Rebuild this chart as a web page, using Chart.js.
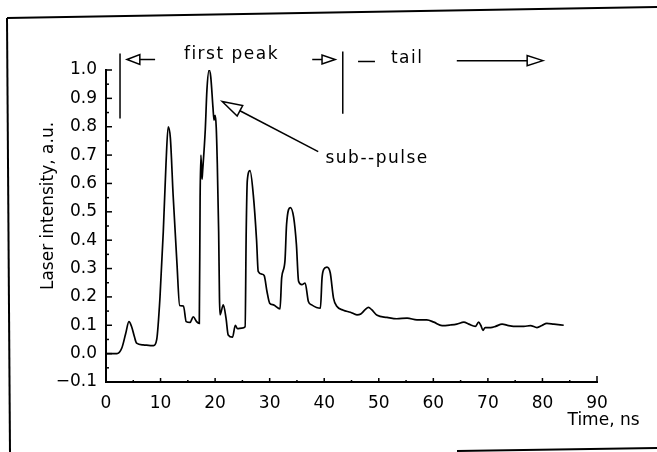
<!DOCTYPE html>
<html><head><meta charset="utf-8">
<script src="https://cdn.jsdelivr.net/npm/chart.js@4/dist/chart.umd.min.js"></script>
<style>html,body{margin:0;padding:0;background:#fff;}#wrap{width:657px;height:452px;position:relative;}</style>
</head><body><div id="wrap"><canvas id="c"></canvas></div>
<script>
// ---- data ----
const timeNs = [0.1,2.0,2.9,3.6,4.2,4.7,5.2,5.6,6.8,8.7,9.3,9.9,10.5,11.0,11.4,11.8,12.3,13.0,13.5,14.2,14.7,15.4,16.0,16.6,17.1,17.25,17.4,17.6,17.7,18.2,18.5,18.9,19.2,19.6,19.8,20.0,20.2,20.4,20.65,20.8,20.9,21.5,22.0,22.4,23.2,23.7,24.1,24.9,25.5,25.7,25.9,26.4,27.0,27.6,27.9,28.6,29.0,29.5,30.0,30.7,31.9,32.2,32.8,33.1,33.8,34.4,34.9,35.3,35.9,36.5,37.1,37.7,39.3,39.6,39.9,40.5,41.1,41.7,42.3,43.5,44.8,46.0,46.7,47.5,48.1,48.7,49.7,51.5,53.3,55.2,57.0,58.8,60.1,61.6,63.1,64.3,65.6,66.5,67.7,68.3,68.7,69.1,69.5,70.5,71.4,72.6,73.8,75.3,76.6,77.8,79.0,79.9,80.8,82.1,83.9];
const intensity = [0.0,0.0,0.02,0.07,0.113,0.095,0.06,0.037,0.031,0.028,0.05,0.2,0.43,0.67,0.80,0.76,0.56,0.32,0.17,0.168,0.113,0.11,0.13,0.113,0.107,0.55,0.70,0.615,0.64,0.79,0.93,1.0,0.976,0.87,0.823,0.84,0.80,0.67,0.43,0.196,0.137,0.172,0.125,0.066,0.058,0.10,0.088,0.09,0.095,0.43,0.61,0.645,0.56,0.40,0.29,0.28,0.275,0.22,0.178,0.172,0.158,0.267,0.326,0.456,0.515,0.48,0.385,0.255,0.243,0.249,0.184,0.172,0.16,0.267,0.297,0.305,0.285,0.196,0.167,0.153,0.146,0.137,0.14,0.155,0.163,0.155,0.135,0.128,0.123,0.125,0.119,0.119,0.111,0.099,0.101,0.104,0.111,0.104,0.096,0.111,0.10,0.082,0.092,0.092,0.096,0.104,0.099,0.096,0.096,0.099,0.092,0.099,0.107,0.104,0.100];
const xTickValues = [0,10,20,30,40,50,60,70,80,90];
const yTickValues = [-0.1,0.0,0.1,0.2,0.3,0.4,0.5,0.6,0.7,0.8,0.9,1.0];
const yTitle = "Laser intensity, a.u.";
const xTitle = "Time, ns";
const labelFirst = "first peak";
const labelTail = "tail";
const labelSub = "sub--pulse";

const FONT = '"DejaVu Sans", sans-serif';

const deco = {
  id: 'deco',
  afterDraw(chart) {
    const ctx = chart.ctx, xs = chart.scales.x, ys = chart.scales.y;
    const X = v => xs.getPixelForValue(v), Y = v => ys.getPixelForValue(v);
    ctx.save();
    ctx.strokeStyle = '#000'; ctx.fillStyle = '#000';
    // inward ticks on y axis
    ctx.lineWidth = 1.5;
    const yl = X(0);
    for (let i = -2; i <= 20; i++) {
      const v = i * 0.05, py = Y(v);
      const len = (i % 2 === 0) ? 6 : 3;
      ctx.beginPath(); ctx.moveTo(yl, py); ctx.lineTo(yl + len, py); ctx.stroke();
    }
    // inward ticks on x axis
    const xb = Y(-0.1);
    for (let i = 0; i <= 18; i++) {
      const px = X(i * 5);
      const len = (i === 18) ? 6 : ((i % 2 === 0) ? 4 : 2);
      ctx.beginPath(); ctx.moveTo(px, xb); ctx.lineTo(px, xb - len); ctx.stroke();
    }
    // figure frame (scan borders)
    ctx.lineWidth = 2;
    ctx.beginPath(); ctx.moveTo(7, 18); ctx.lineTo(657, 7); ctx.stroke();
    ctx.beginPath(); ctx.moveTo(7, 18); ctx.lineTo(10, 452); ctx.stroke();
    ctx.beginPath(); ctx.moveTo(457, 451); ctx.lineTo(657, 448); ctx.stroke();

    // axis titles
    ctx.font = '17px ' + FONT;
    ctx.textAlign = 'center'; ctx.textBaseline = 'middle';
    ctx.save(); ctx.translate(49, 206); ctx.rotate(-Math.PI / 2); ctx.fillText(yTitle, 0, 0); ctx.restore();
    ctx.fillText(xTitle, X(91.2), 421);

    // annotations
    ctx.lineWidth = 1.5;
    const openTri = (tipX, tipY, baseX, baseY, half) => {
      const dx = tipX - baseX, dy = tipY - baseY, L = Math.hypot(dx, dy);
      const nx = -dy / L * half, ny = dx / L * half;
      ctx.beginPath(); ctx.moveTo(tipX, tipY); ctx.lineTo(baseX + nx, baseY + ny);
      ctx.lineTo(baseX - nx, baseY - ny); ctx.closePath(); ctx.stroke();
    };
    const line = (x1, y1, x2, y2) => { ctx.beginPath(); ctx.moveTo(x1, y1); ctx.lineTo(x2, y2); ctx.stroke(); };
    // left vertical bar
    line(X(2.57), Y(1.058), X(2.57), Y(0.829));
    // left arrow
    const ay = Y(1.037);
    openTri(X(3.85), ay, X(6.2), ay, 5);
    line(X(6.2), ay, X(9.0), ay);
    // right small arrow
    line(X(37.8), ay, X(39.6), ay);
    openTri(X(42.0), ay, X(39.6), ay, 4.5);
    // right vertical bar
    line(X(43.4), Y(1.065), X(43.4), Y(0.846));
    // dash before tail
    line(X(46.2), Y(1.03), X(49.3), Y(1.03));
    // long tail arrow
    const ty = Y(1.033);
    line(X(64.3), ty, X(77.2), ty);
    openTri(X(80.1), ty, X(77.2), ty, 5);
    // sub-pulse arrow
    const tipX = X(21.3), tipY = Y(0.889), tailX = X(38.9), tailY = Y(0.712);
    const L = Math.hypot(tailX - tipX, tailY - tipY);
    const bx = tipX + (tailX - tipX) / L * 20, by = tipY + (tailY - tipY) / L * 20;
    openTri(tipX, tipY, bx, by, 6);
    line(bx, by, tailX, tailY);

    // annotation texts
    ctx.font = '17px ' + FONT;
    ctx.letterSpacing = '1.5px';
    ctx.fillText(labelFirst, X(23.0), Y(1.054));
    ctx.fillText(labelTail, X(55.2), Y(1.04));
    ctx.fillText(labelSub, X(49.7), Y(0.688));
    ctx.restore();
  }
};

new Chart(document.getElementById('c'), {
  type: 'line',
  data: {
    datasets: [{
      data: timeNs.map((t, i) => ({ x: t, y: intensity[i] })),
      borderColor: '#000', borderWidth: 1.7, pointRadius: 0,
      cubicInterpolationMode: 'monotone', fill: false
    }]
  },
  options: {
    responsive: true, maintainAspectRatio: false, animation: false,
    layout: { padding: { top: 70, right: 60, bottom: 30, left: 0 } },
    plugins: { legend: { display: false }, tooltip: { enabled: false } },
    scales: {
      x: {
        type: 'linear', min: 0, max: 90,
        afterBuildTicks: s => { s.ticks = xTickValues.map(v => ({ value: v })); },
        afterFit: s => { s.height = 40; },
        grid: { display: true, drawOnChartArea: false, drawTicks: false },
        border: { display: true, color: '#000', width: 2 },
        ticks: { color: '#000', font: { family: FONT, size: 17 }, padding: 11, maxRotation: 0, autoSkip: false,
                 callback: v => String(v) }
      },
      y: {
        type: 'linear', min: -0.1, max: 1.0,
        afterBuildTicks: s => { s.ticks = yTickValues.map(v => ({ value: v })); },
        afterFit: s => { s.width = 106; },
        grid: { display: true, drawOnChartArea: false, drawTicks: false },
        border: { display: true, color: '#000', width: 2 },
        ticks: { color: '#000', font: { family: FONT, size: 17 }, padding: 9, autoSkip: false,
                 callback: v => (v < -1e-9 ? '\u2212' + Math.abs(v).toFixed(1) : Math.abs(v).toFixed(1)) }
      }
    }
  },
  plugins: [deco]
});
</script></body></html>
